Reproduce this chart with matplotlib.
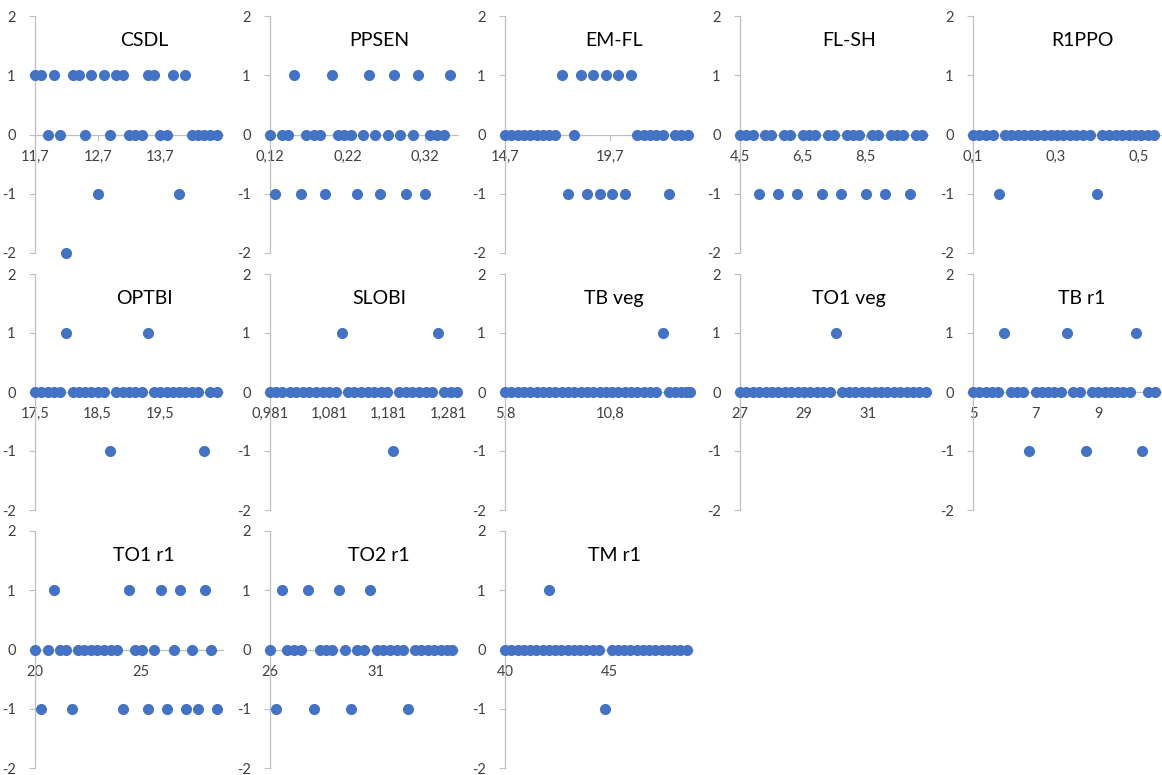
import matplotlib
matplotlib.use("Agg")
import matplotlib.pyplot as plt

plt.rcParams['font.family'] = ['Lato', 'DejaVu Sans']

# residuals (-2..2) for each trait, x positions grouped by residual level
titles = ["CSDL", "PPSEN", "EM-FL", "FL-SH", "R1PPO",
          "OPTBI", "SLOBI", "TB veg", "TO1 veg", "TB r1",
          "TO1 r1", "TO2 r1", "TM r1"]

csdl = {1: [11.7, 11.8, 12.0, 12.3, 12.4, 12.6, 12.8, 13.0, 13.1, 13.5, 13.6, 13.9, 14.1],
        0: [11.9, 12.1, 12.5, 12.9, 13.2, 13.3, 13.4, 13.7, 13.8, 14.2, 14.3, 14.4, 14.5, 14.6],
        -1: [12.7, 14.0],
        -2: [12.2]}
ppsen = {1: [0.151, 0.200, 0.248, 0.280, 0.311, 0.352],
         0: [0.120, 0.135, 0.143, 0.166, 0.176, 0.184, 0.207, 0.215, 0.224, 0.240,
             0.255, 0.272, 0.287, 0.304, 0.326, 0.335, 0.344],
         -1: [0.127, 0.160, 0.191, 0.232, 0.262, 0.295, 0.320]}
emfl = {1: [17.4, 18.3, 18.9, 19.5, 20.1, 20.7],
        0: [14.7, 15.0, 15.3, 15.6, 15.9, 16.2, 16.5, 16.8, 17.1, 18.0,
            21.0, 21.3, 21.6, 21.9, 22.2, 22.8, 23.1, 23.4],
        -1: [17.7, 18.6, 19.2, 19.8, 20.4, 22.5]}
flsh = {0: [4.5, 4.7, 4.9, 5.3, 5.5, 5.9, 6.1, 6.5, 6.7, 6.9, 7.3, 7.5,
            7.9, 8.1, 8.3, 8.7, 8.9, 9.3, 9.5, 9.7, 10.1, 10.3],
        -1: [5.1, 5.7, 6.3, 7.1, 7.7, 8.5, 9.1, 9.9]}
r1ppo = {0: [0.100, 0.115, 0.131, 0.147, 0.176, 0.192, 0.208, 0.224, 0.240, 0.255,
             0.271, 0.287, 0.302, 0.318, 0.334, 0.349, 0.365, 0.381, 0.412, 0.428,
             0.444, 0.459, 0.475, 0.490, 0.506, 0.522, 0.535],
         -1: [0.162, 0.399]}
optbi = {1: [18.0, 19.3],
         0: [17.5, 17.6, 17.7, 17.8, 17.9, 18.1, 18.2, 18.3, 18.4, 18.5, 18.6,
             18.8, 18.9, 19.0, 19.1, 19.2, 19.4, 19.5, 19.6, 19.7, 19.8, 19.9,
             20.0, 20.1, 20.3, 20.4],
         -1: [18.7, 20.2]}
slobi = {1: [1.102, 1.265],
         0: [0.981, 0.991, 1.002, 1.014, 1.025, 1.036, 1.047, 1.059, 1.070, 1.081,
             1.092, 1.112, 1.123, 1.134, 1.146, 1.157, 1.168, 1.179, 1.199, 1.210,
             1.221, 1.233, 1.244, 1.255, 1.275, 1.286, 1.297],
         -1: [1.189]}
tb_veg = {1: [13.3],
          0: [5.8, 6.1, 6.4, 6.7, 7.0, 7.3, 7.6, 7.9, 8.2, 8.5, 8.8, 9.1, 9.4,
              9.7, 10.0, 10.3, 10.6, 10.9, 11.2, 11.5, 11.8, 12.1, 12.4, 12.7,
              13.0, 13.6, 13.9, 14.2, 14.4, 14.6]}
to1_veg = {1: [30.0],
           0: [27.0, 27.2, 27.4, 27.6, 27.8, 28.0, 28.2, 28.4, 28.6, 28.8, 29.0,
               29.2, 29.4, 29.6, 29.8, 30.2, 30.4, 30.6, 30.8, 31.0, 31.2, 31.4,
               31.6, 31.8, 32.0, 32.2, 32.4, 32.6, 32.8]}
tb_r1 = {1: [6.0, 8.0, 10.2],
         0: [5.0, 5.2, 5.4, 5.6, 5.8, 6.2, 6.4, 6.6, 7.0, 7.2, 7.4, 7.6, 7.8,
             8.2, 8.4, 8.8, 9.0, 9.2, 9.4, 9.6, 9.8, 10.0, 10.6, 10.8],
         -1: [6.8, 8.6, 10.4]}
to1_r1 = {1: [20.9, 24.45, 25.94, 26.84, 28.02],
          0: [20.0, 20.6, 21.18, 21.46, 22.01, 22.33, 22.64, 22.94, 23.25, 23.57,
              23.85, 24.72, 25.06, 25.63, 26.56, 27.39, 28.29],
          -1: [20.28, 21.76, 24.14, 25.35, 26.24, 27.11, 27.7, 28.6]}
to2_r1 = {1: [26.58, 27.8, 29.26, 30.73],
          0: [26.0, 26.82, 27.14, 27.45, 28.35, 28.67, 28.95, 29.55, 30.13, 30.45,
              31.05, 31.36, 31.68, 31.99, 32.29, 32.85, 33.16, 33.48, 33.76, 34.08,
              34.36, 34.63],
          -1: [26.27, 28.08, 29.82, 32.53]}
tm_r1 = {1: [42.1],
         0: [40.0, 40.3, 40.6, 40.9, 41.2, 41.5, 41.8, 42.1, 42.4, 42.7, 43.0,
             43.3, 43.6, 43.9, 44.2, 44.5, 45.1, 45.4, 45.7, 46.0, 46.3, 46.6,
             46.9, 47.2, 47.5, 47.8, 48.1, 48.4, 48.7],
         -1: [44.8]}

panels = [csdl, ppsen, emfl, flsh, r1ppo, optbi, slobi, tb_veg, to1_veg, tb_r1,
          to1_r1, to2_r1, tm_r1]

x_ticks = [[11.7, 12.7, 13.7], [0.12, 0.22, 0.32], [14.7, 19.7], [4.5, 6.5, 8.5],
           [0.1, 0.3, 0.5], [17.5, 18.5, 19.5], [0.981, 1.081, 1.181, 1.281],
           [5.8, 10.8], [27, 29, 31], [5, 7, 9], [20, 25], [26, 31], [40, 45]]
x_labels = [["11,7", "12,7", "13,7"], ["0,12", "0,22", "0,32"], ["14,7", "19,7"],
            ["4,5", "6,5", "8,5"], ["0,1", "0,3", "0,5"], ["17,5", "18,5", "19,5"],
            ["0,981", "1,081", "1,181", "1,281"], ["5,8", "10,8"], ["27", "29", "31"],
            ["5", "7", "9"], ["20", "25"], ["26", "31"], ["40", "45"]]
x_max = [14.7, 0.362, 23.65, 10.48, 0.553, 20.5, 1.298, 14.75, 32.87, 11.0,
         28.87, 34.9, 49.0]

W, H = 1162, 775
fig = plt.figure(figsize=(W / 100, H / 100), dpi=100)

lefts = [35, 270, 505, 740, 973]
rows = [(16, 253), (274, 510), (531, 768)]
blue = "#4472C4"
grey = "#BFBFBF"

for i, data in enumerate(panels):
    r, c = divmod(i, 5)
    top, bot = rows[r]
    ax = fig.add_axes([lefts[c] / W, 1 - bot / H, 188 / W, (bot - top) / H])
    for level, xs in data.items():
        ax.scatter(xs, [level] * len(xs), s=64, color=blue, linewidths=0,
                   clip_on=False, zorder=3)
    ax.set_xlim(x_ticks[i][0], x_max[i])
    ax.set_ylim(-2, 2)
    ax.set_yticks([-2, -1, 0, 1, 2])
    ax.set_yticklabels(["-2", "-1", "0", "1", "2"])
    ax.set_xticks(x_ticks[i])
    ax.set_xticklabels(x_labels[i])
    ax.spines['top'].set_visible(False)
    ax.spines['right'].set_visible(False)
    ax.spines['bottom'].set_position(('data', 0))
    for s in ('left', 'bottom'):
        ax.spines[s].set_color(grey)
        ax.spines[s].set_linewidth(0.9)
    ax.tick_params(axis='y', length=4, color=grey, labelcolor='#404040',
                   labelsize=10.5, pad=10)
    ax.tick_params(axis='x', length=4, color=grey, labelcolor='#404040',
                   labelsize=10.5, pad=7)
    ax.patch.set_alpha(0)
    ax.text(0.58, 0.895, titles[i], transform=ax.transAxes, ha='center',
            va='center', fontsize=14, color='black')

fig.savefig("out.png", dpi=100, facecolor="white")
